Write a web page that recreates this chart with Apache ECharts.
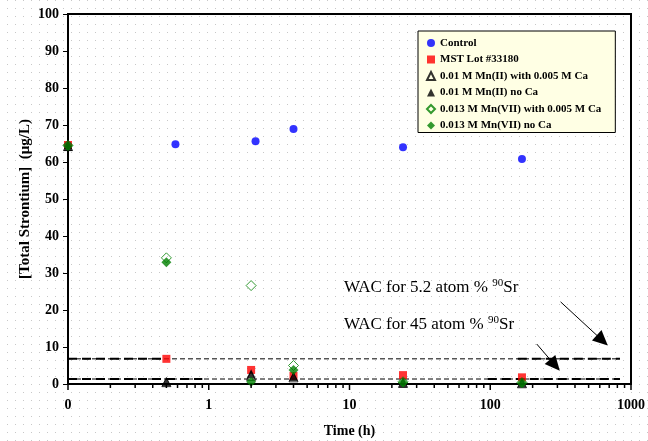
<!DOCTYPE html>
<html>
<head>
<meta charset="utf-8">
<script src="https://cdn.jsdelivr.net/npm/echarts@6/dist/echarts.min.js"></script>
<style>
  body { margin: 0; }
  #main { width: 648px; height: 441px; }
</style>
</head>
<body>
<div id="main"></div>
<script>
// time 0 is drawn at 0.1 h on the log axis (labelled "0")
const controlX = [0.1, 0.58, 2.15, 4, 24, 168]
const controlY = [64.5, 64.8, 65.6, 68.9, 64.0, 60.8]
const sampleX = [0.1, 0.5, 2, 4, 24, 168]
const mstY = [64.6, 6.8, 3.8, 2.2, 2.4, 1.8]
const mnIICaY = [64.3, 0.5, 2.2, 1.8, 0.3, 0.2]
const mnIINoCaY = [64.2, 0.6, 2.8, 2.0, 0.3, 0.3]
const mnVIICaY = [64.5, 34.1, 26.6, 5.0, 0.6, 0.4]
const mnVIINoCaY = [64.4, 32.9, 0.6, 3.8, 0.4, 0.3]

// WAC limits (dashed lines)
const wacLevels = [6.8, 1.35]
const wacSpan = [0.1, 835]
const wacHeavyLeft = [0.47, 0.9]
const wacHeavyRight = [157, 96]

const seriesNames = ['Control', 'MST Lot #33180', '0.01 M Mn(II) with 0.005 M Ca',
  '0.01 M Mn(II) no Ca', '0.013 M Mn(VII) with 0.005 M Ca', '0.013 M Mn(VII) no Ca']

// log axis ticks
const majorTicks = [0.1, 1, 10, 100, 1000]
const minorTicks = [0.2, 0.3, 0.4, 0.5, 0.6, 0.7, 0.8, 0.9,
  2, 3, 4, 5, 6, 7, 8, 9, 20, 30, 40, 50, 60, 70, 80, 90,
  200, 300, 400, 500, 600, 700, 800, 900]

const zip = (xs, ys) => xs.map((x, i) => [x, ys[i]])
const serif = 'Liberation Serif, Times New Roman, serif'

// dotted background
const tile = document.createElement('canvas')
tile.width = 8
tile.height = 8
const tc = tile.getContext('2d')
tc.fillStyle = '#ffffff'
tc.fillRect(0, 0, 8, 8)
tc.fillStyle = '#c8c8c8'
tc.fillRect(7, 0, 1, 1)

// ticks below the x axis, drawn as thin rect symbols at y = 0
function tickSeries(vals, len) {
  return {
    type: 'scatter',
    silent: true,
    clip: false,
    symbol: 'rect',
    symbolSize: [1.5, len],
    symbolOffset: [0, len / 2],
    itemStyle: { color: '#000', opacity: 1 },
    data: vals.map(v => [v, 0]),
    z: 20
  }
}

function wacLine(level, x0, x1, width, dash) {
  return {
    type: 'line',
    silent: true,
    symbol: 'none',
    data: [[x0, level], [x1, level]],
    lineStyle: { color: '#000', width: width, type: dash },
    z: 1
  }
}

const myChart = echarts.init(document.getElementById('main'))

const series = []
wacLevels.forEach((lv, i) => {
  series.push(wacLine(lv, wacSpan[0], wacSpan[1], 1, [5, 3]))
  series.push(wacLine(lv, wacSpan[0], wacHeavyLeft[i], 2, [9, 5]))
  series.push(wacLine(lv, wacHeavyRight[i], wacSpan[1], 2, [9, 5]))
})
// arrows pointing to the lines
series.push({
  type: 'line',
  silent: true,
  data: [],
  markLine: {
    silent: true,
    symbol: ['none', 'triangle'],
    symbolSize: [14, 15],
    label: { show: false },
    lineStyle: { color: '#000', width: 1, type: 'solid' },
    itemStyle: { color: '#000' },
    data: [
      [{ coord: [316, 22.2] }, { coord: [625, 11.8] }],
      [{ coord: [214, 10.8] }, { coord: [288, 5.1] }]
    ]
  }
})
series.push(tickSeries(minorTicks, 4))
series.push(tickSeries(majorTicks, 6))

series.push(
  { name: seriesNames[0], type: 'scatter', symbol: 'circle', symbolSize: 8,
    itemStyle: { color: '#0000ff' }, data: zip(controlX, controlY), z: 10 },
  { name: seriesNames[1], type: 'scatter', symbol: 'rect', symbolSize: 8,
    itemStyle: { color: '#ff0000' }, data: zip(sampleX, mstY), z: 11 },
  { name: seriesNames[2], type: 'scatter', symbol: 'triangle', symbolSize: 9,
    itemStyle: { color: 'rgba(0,0,0,0)', borderColor: '#000', borderWidth: 1 },
    data: zip(sampleX, mnIICaY), z: 12 },
  { name: seriesNames[3], type: 'scatter', symbol: 'triangle', symbolSize: 9,
    itemStyle: { color: '#000' }, data: zip(sampleX, mnIINoCaY), z: 13 },
  { name: seriesNames[4], type: 'scatter', symbol: 'diamond', symbolSize: 10,
    itemStyle: { color: 'rgba(0,0,0,0)', borderColor: '#008000', borderWidth: 1 },
    data: zip(sampleX, mnVIICaY), z: 14 },
  { name: seriesNames[5], type: 'scatter', symbol: 'diamond', symbolSize: 10,
    itemStyle: { color: '#008000' }, data: zip(sampleX, mnVIINoCaY), z: 15 }
)

const waxText = {
  m: { fontFamily: serif, fontSize: 17, fill: '#000', lineHeight: 20 },
  s: { fontFamily: serif, fontSize: 11, fill: '#000', lineHeight: 20, verticalAlign: 'top' }
}

const option = {
  animation: false,
  backgroundColor: { image: tile, repeat: 'repeat' },
  grid: {
    left: 68, right: 17, top: 14, bottom: 57,
    outerBoundsMode: 'none',
    show: true, borderColor: '#000', borderWidth: 2
  },
  legend: {
    data: seriesNames,
    orient: 'vertical',
    left: 418,
    top: 31,
    padding: [6, 14, 1, 8],
    itemWidth: 8,
    itemHeight: 8,
    itemGap: 4.5,
    backgroundColor: '#ffffe4',
    borderColor: '#000',
    borderWidth: 1,
    textStyle: { fontFamily: serif, fontWeight: 'bold', fontSize: 11, color: '#000', lineHeight: 12 }
  },
  xAxis: {
    type: 'log',
    logBase: 10,
    min: 0.1,
    max: 1000,
    name: 'Time (h)',
    nameLocation: 'middle',
    nameGap: 40,
    nameMoveOverlap: false,
    nameTextStyle: { fontFamily: serif, fontWeight: 'bold', fontSize: 14, color: '#000' },
    axisLine: { lineStyle: { color: '#000', width: 1.5 } },
    axisTick: { show: false },
    splitLine: { show: false },
    axisLabel: {
      margin: 14,
      fontFamily: serif, fontWeight: 'bold', fontSize: 14, color: '#000',
      formatter: v => (v < 0.5 ? '0' : String(Math.round(v)))
    }
  },
  yAxis: {
    type: 'value',
    min: 0,
    max: 100,
    interval: 10,
    name: '[Total Strontium]  (\u03bcg/L)',
    nameLocation: 'middle',
    nameGap: 35,
    nameMoveOverlap: false,
    nameTextStyle: { fontFamily: serif, fontWeight: 'bold', fontSize: 15, color: '#000' },
    axisLine: { show: true, lineStyle: { color: '#000', width: 1.5 } },
    axisTick: { show: true, length: 5, lineStyle: { color: '#000' } },
    splitLine: { show: false },
    axisLabel: { margin: 9, fontFamily: serif, fontWeight: 'bold', fontSize: 14, color: '#000' }
  },
  graphic: [
    {
      type: 'text', left: 344, top: 278, silent: true,
      style: { text: '{m|WAC for 5.2 atom % }{s|90}{m|Sr}', rich: waxText }
    },
    {
      type: 'text', left: 344, top: 315, silent: true,
      style: { text: '{m|WAC for 45 atom % }{s|90}{m|Sr}', rich: waxText }
    }
  ],
  series: series
}

myChart.setOption(option)
</script>
</body>
</html>
